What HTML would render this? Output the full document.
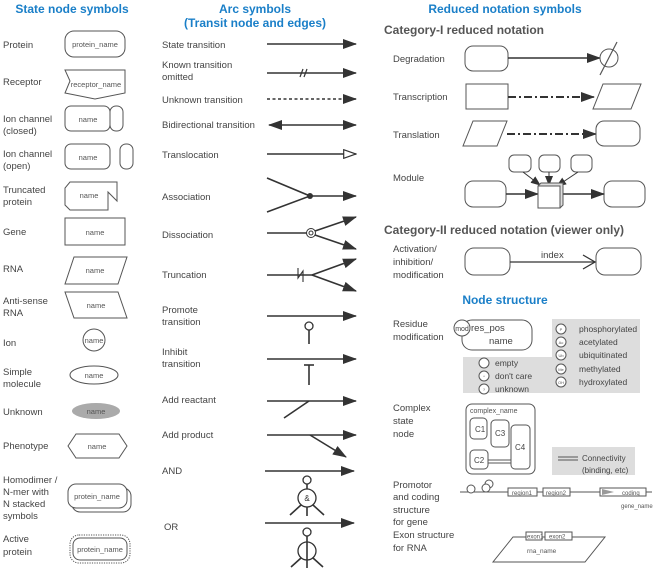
<!DOCTYPE html>
<html><head><meta charset="utf-8"><style>
html,body{margin:0;padding:0;background:#fff}
svg{display:block}
text{font-family:"Liberation Sans",sans-serif}
.l{font-size:9.5px;fill:#444}
.h{font-size:12px;font-weight:bold;fill:#1a7fc8}
.g{font-size:12px;font-weight:bold;fill:#555}
.n{font-size:7.5px;fill:#555}
.s{fill:#fff;stroke:#555;stroke-width:1}
.a{stroke:#333;stroke-width:1.6;fill:none}
</style></head><body>
<svg width="653" height="568" viewBox="0 0 653 568" xmlns="http://www.w3.org/2000/svg">
<defs>
<marker id="ab" viewBox="0 0 14 10" refX="13" refY="5" markerWidth="14" markerHeight="10" orient="auto-start-reverse" markerUnits="userSpaceOnUse"><path d="M0,0L14,5L0,10z" fill="#333"/></marker>
<marker id="ao" viewBox="0 0 14 10" refX="13" refY="5" markerWidth="14" markerHeight="10" orient="auto" markerUnits="userSpaceOnUse"><path d="M0.7,0.7L13,5L0.7,9.3z" fill="#fff" stroke="#333" stroke-width="1.2"/></marker>
<marker id="as" viewBox="0 0 10 8" refX="9" refY="4" markerWidth="10" markerHeight="8" orient="auto" markerUnits="userSpaceOnUse"><path d="M0,0L10,4L0,8z" fill="#333"/></marker>
</defs>

<text x="72" y="13" class="h" text-anchor="middle">State node symbols</text>
<text x="255" y="13" class="h" text-anchor="middle">Arc symbols</text>
<text x="255" y="27" class="h" text-anchor="middle">(Transit node and edges)</text>
<text x="505" y="13" class="h" text-anchor="middle">Reduced notation symbols</text>

<g class="l">
<text x="3" y="48">Protein</text>
<text x="3" y="85">Receptor</text>
<text x="3" y="122">Ion channel</text><text x="3" y="134">(closed)</text>
<text x="3" y="157">Ion channel</text><text x="3" y="169">(open)</text>
<text x="3" y="193">Truncated</text><text x="3" y="205">protein</text>
<text x="3" y="235">Gene</text>
<text x="3" y="272">RNA</text>
<text x="3" y="304">Anti-sense</text><text x="3" y="316">RNA</text>
<text x="3" y="346">Ion</text>
<text x="3" y="375">Simple</text><text x="3" y="387">molecule</text>
<text x="3" y="415">Unknown</text>
<text x="3" y="449">Phenotype</text>
<text x="3" y="483">Homodimer /</text><text x="3" y="495">N-mer with</text><text x="3" y="507">N stacked</text><text x="3" y="519">symbols</text>
<text x="3" y="542">Active</text><text x="3" y="555">protein</text>
</g>
<rect x="65" y="31" width="60" height="26" rx="9" class="s"/>
<text x="95" y="47" class="n" text-anchor="middle">protein_name</text>
<path d="M65,70L125,70L125,93L95,99L65,93L70,81Z" class="s"/>
<text x="96" y="87" class="n" text-anchor="middle">receptor_name</text>
<rect x="65" y="106" width="45" height="25" rx="6" class="s"/>
<rect x="110" y="106" width="13" height="25" rx="6" class="s"/>
<text x="88" y="122" class="n" text-anchor="middle">name</text>
<rect x="65" y="144" width="45" height="25" rx="6" class="s"/>
<rect x="120" y="144" width="13" height="25" rx="6" class="s"/>
<text x="88" y="160" class="n" text-anchor="middle">name</text>
<path d="M70,182L117,182L117,201L108,192L108,210L70,210L65,205L65,188Z" class="s"/>
<text x="89" y="198" class="n" text-anchor="middle">name</text>
<rect x="65" y="218" width="60" height="27" class="s"/>
<text x="95" y="235" class="n" text-anchor="middle">name</text>
<path d="M74,257L127,257L118,284L65,284Z" class="s"/>
<text x="95" y="273" class="n" text-anchor="middle">name</text>
<path d="M65,292L118,292L127,318L74,318Z" class="s"/>
<text x="96" y="308" class="n" text-anchor="middle">name</text>
<circle cx="94" cy="340" r="11" class="s"/>
<text x="94" y="343" class="n" text-anchor="middle">name</text>
<ellipse cx="94" cy="375" rx="24" ry="9" class="s"/>
<text x="94" y="378" class="n" text-anchor="middle">name</text>
<ellipse cx="96" cy="411" rx="24" ry="8" fill="#aaa"/>
<text x="96" y="414" class="n" text-anchor="middle">name</text>
<path d="M76,434L119,434L127,446L119,458L76,458L68,446Z" class="s"/>
<text x="97" y="449" class="n" text-anchor="middle">name</text>
<rect x="72" y="488" width="59" height="24" rx="8" class="s"/>
<rect x="68" y="484" width="59" height="24" rx="8" class="s"/>
<text x="97" y="499" class="n" text-anchor="middle">protein_name</text>
<rect x="70" y="535" width="60" height="28" rx="9" fill="#fff" stroke="#555" stroke-dasharray="1.2,1.2"/>
<rect x="73" y="538" width="54" height="22" rx="7" class="s"/>
<text x="100" y="552" class="n" text-anchor="middle">protein_name</text>

<g class="l">
<text x="162" y="48">State transition</text>
<text x="162" y="68">Known transition</text><text x="162" y="80">omitted</text>
<text x="162" y="103">Unknown transition</text>
<text x="162" y="128">Bidirectional transition</text>
<text x="162" y="158">Translocation</text>
<text x="162" y="200">Association</text>
<text x="162" y="238">Dissociation</text>
<text x="162" y="278">Truncation</text>
<text x="162" y="313">Promote</text><text x="162" y="325">transition</text>
<text x="162" y="355">Inhibit</text><text x="162" y="367">transition</text>
<text x="162" y="403">Add reactant</text>
<text x="162" y="438">Add product</text>
<text x="162" y="474">AND</text>
<text x="164" y="530">OR</text>
</g>
<line x1="267" y1="44" x2="356" y2="44" class="a" marker-end="url(#ab)"/>
<line x1="267" y1="73" x2="356" y2="73" class="a" marker-end="url(#ab)"/>
<line x1="300" y1="77" x2="303" y2="69" stroke="#333" stroke-width="1.2"/><line x1="304" y1="77" x2="307" y2="69" stroke="#333" stroke-width="1.2"/>
<line x1="267" y1="99" x2="343" y2="99" stroke="#333" stroke-width="1.6" stroke-dasharray="3,2.5"/>
<line x1="343" y1="99" x2="356" y2="99" class="a" marker-end="url(#ab)"/>
<line x1="269" y1="125" x2="356" y2="125" class="a" marker-start="url(#ab)" marker-end="url(#ab)"/>
<line x1="267" y1="154" x2="356" y2="154" class="a" marker-end="url(#ao)"/>
<path d="M267,178L310,196L267,212" class="a"/>
<circle cx="310" cy="196" r="3" fill="#333"/>
<line x1="310" y1="196" x2="356" y2="196" class="a" marker-end="url(#ab)"/>
<line x1="267" y1="233" x2="307" y2="233" class="a"/>
<circle cx="311" cy="233" r="4.5" fill="#fff" stroke="#333"/><circle cx="311" cy="233" r="2" fill="#fff" stroke="#333"/>
<line x1="315" y1="231" x2="356" y2="217" class="a" marker-end="url(#ab)"/>
<line x1="315" y1="235" x2="356" y2="249" class="a" marker-end="url(#ab)"/>
<line x1="267" y1="275" x2="312" y2="275" class="a"/>
<path d="M298,268L298,278L303,271L303,282" stroke="#333" fill="none" stroke-width="1.1"/>
<line x1="312" y1="275" x2="356" y2="259" class="a" marker-end="url(#ab)"/>
<line x1="312" y1="275" x2="356" y2="291" class="a" marker-end="url(#ab)"/>
<line x1="267" y1="316" x2="356" y2="316" class="a" marker-end="url(#ab)"/>
<circle cx="309" cy="326" r="4" fill="#fff" stroke="#333" stroke-width="1.3"/>
<line x1="309" y1="330" x2="309" y2="344" class="a"/>
<line x1="267" y1="359" x2="356" y2="359" class="a" marker-end="url(#ab)"/>
<line x1="309" y1="365" x2="309" y2="385" class="a"/><line x1="304" y1="365" x2="314" y2="365" class="a"/>
<line x1="267" y1="401" x2="356" y2="401" class="a" marker-end="url(#ab)"/>
<line x1="309" y1="401" x2="284" y2="418" class="a"/>
<line x1="267" y1="435" x2="356" y2="435" class="a" marker-end="url(#ab)"/>
<line x1="310" y1="435" x2="346" y2="457" class="a" marker-end="url(#ab)"/>
<line x1="265" y1="471" x2="354" y2="471" class="a" marker-end="url(#ab)"/>
<circle cx="307" cy="480" r="4" fill="#fff" stroke="#333" stroke-width="1.3"/>
<line x1="307" y1="484" x2="307" y2="489" class="a"/>
<circle cx="307" cy="498" r="9" fill="#fff" stroke="#333" stroke-width="1.3"/>
<text x="307" y="501" font-size="8" text-anchor="middle" fill="#333">&amp;</text>
<path d="M301,505L290,515M307,507L307,516M313,505L324,515" class="a" stroke-width="1.3"/>
<line x1="265" y1="523" x2="354" y2="523" class="a" marker-end="url(#ab)"/>
<circle cx="307" cy="532" r="4" fill="#fff" stroke="#333" stroke-width="1.3"/>
<line x1="307" y1="536" x2="307" y2="542" class="a"/>
<circle cx="307" cy="551" r="9" fill="#fff" stroke="#333" stroke-width="1.3"/>
<line x1="307" y1="542" x2="307" y2="568" class="a" stroke-width="1.3"/>
<path d="M301,558L291,567M313,558L323,567" class="a" stroke-width="1.3"/>

<text x="384" y="34" class="g">Category-I reduced notation</text>
<g class="l">
<text x="393" y="62">Degradation</text>
<text x="393" y="100">Transcription</text>
<text x="393" y="138">Translation</text>
<text x="393" y="181">Module</text>
<text x="393" y="252">Activation/</text><text x="393" y="265">inhibition/</text><text x="393" y="278">modification</text>
</g>
<rect x="465" y="46" width="43" height="25" rx="8" class="s"/>
<line x1="508" y1="58" x2="600" y2="58" class="a" marker-end="url(#ab)"/>
<circle cx="609" cy="58" r="9" class="s" stroke-width="1.2"/>
<line x1="600" y1="75" x2="617" y2="42" stroke="#555" stroke-width="1.2"/>
<rect x="466" y="84" width="42" height="25" class="s"/>
<line x1="508" y1="97" x2="588" y2="97" stroke="#333" stroke-width="2" stroke-dasharray="8,3,2,3"/>
<line x1="585" y1="97" x2="594" y2="97" class="a" marker-end="url(#ab)"/>
<path d="M603,84L641,84L631,109L593,109Z" class="s"/>
<path d="M473,121L507,121L497,146L463,146Z" class="s"/>
<line x1="507" y1="134" x2="588" y2="134" stroke="#333" stroke-width="2" stroke-dasharray="8,3,2,3"/>
<line x1="585" y1="134" x2="596" y2="134" class="a" marker-end="url(#ab)"/>
<rect x="596" y="121" width="44" height="25" rx="8" class="s"/>
<rect x="509" y="155" width="22" height="17" rx="5" class="s"/>
<rect x="539" y="155" width="21" height="17" rx="5" class="s"/>
<rect x="571" y="155" width="21" height="17" rx="5" class="s"/>
<line x1="523" y1="172" x2="540" y2="185" stroke="#333" stroke-width="1" marker-end="url(#as)"/>
<line x1="549" y1="172" x2="549" y2="185" stroke="#333" stroke-width="1" marker-end="url(#as)"/>
<line x1="578" y1="172" x2="557" y2="186" stroke="#333" stroke-width="1" marker-end="url(#as)"/>
<rect x="465" y="181" width="41" height="26" rx="8" class="s"/>
<rect x="604" y="181" width="41" height="26" rx="8" class="s"/>
<line x1="506" y1="194" x2="538" y2="194" class="a" marker-end="url(#ab)"/>
<line x1="561" y1="194" x2="604" y2="194" class="a" marker-end="url(#ab)"/>
<path d="M538,186L541,183L563,183L563,205L560,208L538,208Z" fill="#ddd" stroke="#555"/>
<rect x="538" y="186" width="22" height="22" class="s"/>
<text x="384" y="234" class="g">Category-II reduced notation (viewer only)</text>
<rect x="465" y="248" width="45" height="27" rx="9" class="s"/>
<rect x="596" y="248" width="45" height="27" rx="9" class="s"/>
<line x1="510" y1="262" x2="595" y2="262" stroke="#333" stroke-width="1.3"/>
<path d="M583,255L595,262L583,269" stroke="#333" stroke-width="1.3" fill="none"/>
<text x="541" y="258" class="l" font-size="9">index</text>

<text x="505" y="304" class="h" text-anchor="middle">Node structure</text>
<g class="l">
<text x="393" y="327">Residue</text><text x="393" y="340">modification</text>
<text x="393" y="411">Complex</text><text x="393" y="424">state</text><text x="393" y="437">node</text>
<text x="393" y="488">Promotor</text><text x="393" y="500">and coding</text><text x="393" y="513">structure</text><text x="393" y="525">for gene</text>
<text x="393" y="538">Exon structure</text><text x="393" y="551">for RNA</text>
</g>
<path d="M552,319L640,319L640,393L463,393L463,357L552,357Z" fill="#ddd"/>
<rect x="462" y="320" width="70" height="30" rx="10" class="s"/>
<circle cx="462" cy="328" r="8" class="s"/>
<text x="462" y="331" font-size="7" fill="#444" text-anchor="middle">mod</text>
<text x="471" y="331" class="l" font-size="8.5">res_pos</text>
<text x="489" y="344" class="l" font-size="8.5">name</text>
<g font-size="8.5" fill="#444">
<circle cx="561" cy="329" r="5" class="s"/><text x="579" y="332">phosphorylated</text>
<circle cx="561" cy="342" r="5" class="s"/><text x="579" y="345">acetylated</text>
<circle cx="561" cy="355" r="5" class="s"/><text x="579" y="358">ubiquitinated</text>
<circle cx="561" cy="369" r="5" class="s"/><text x="579" y="372">methylated</text>
<circle cx="561" cy="382" r="5" class="s"/><text x="579" y="385">hydroxylated</text>
<circle cx="484" cy="363" r="5" class="s"/><text x="495" y="366">empty</text>
<circle cx="484" cy="376" r="5" class="s"/><text x="495" y="379">don't care</text>
<circle cx="484" cy="389" r="5" class="s"/><text x="495" y="392">unknown</text>
</g>
<g font-size="4" fill="#555" text-anchor="middle">
<text x="561" y="331">P</text><text x="561" y="344">Ac</text><text x="561" y="357">Ub</text><text x="561" y="371">Me</text><text x="561" y="384">OH</text><text x="484" y="378">*</text><text x="484" y="391">?</text>
</g>
<rect x="466" y="404" width="69" height="70" rx="6" class="s"/>
<text x="470" y="413" font-size="7" fill="#555">complex_name</text>
<rect x="470" y="418" width="17" height="21" rx="4" class="s"/><text x="475" y="432" font-size="8" fill="#444">C1</text>
<line x1="487" y1="460" x2="511" y2="460" stroke="#555"/><line x1="487" y1="463" x2="511" y2="463" stroke="#555"/>
<rect x="491" y="420" width="18" height="27" rx="4" class="s"/><text x="495" y="436" font-size="8" fill="#444">C3</text>
<rect x="470" y="450" width="18" height="19" rx="4" class="s"/><text x="474" y="463" font-size="8" fill="#444">C2</text>
<rect x="511" y="425" width="19" height="44" rx="4" class="s"/><text x="515" y="450" font-size="8" fill="#444">C4</text>
<rect x="552" y="447" width="83" height="28" fill="#ddd"/>
<line x1="558" y1="457" x2="578" y2="457" stroke="#555"/><line x1="558" y1="460" x2="578" y2="460" stroke="#555"/>
<text x="582" y="461" font-size="8" fill="#444">Connectivity</text>
<text x="582" y="473" font-size="8" fill="#444">(binding, etc)</text>
<line x1="460" y1="492" x2="652" y2="492" stroke="#555"/>
<circle cx="471" cy="489" r="4" class="s"/>
<circle cx="489" cy="484" r="4" class="s"/><circle cx="486" cy="488" r="4" class="s"/>
<rect x="508" y="488" width="29" height="8" class="s"/><text x="512" y="495" font-size="6" fill="#555">region1</text>
<rect x="543" y="488" width="27" height="8" class="s"/><text x="546" y="495" font-size="6" fill="#555">region2</text>
<rect x="600" y="488" width="46" height="8" class="s"/>
<path d="M602,489L614,492L602,495Z" fill="#999"/>
<text x="622" y="495" font-size="6" fill="#555">coding</text>
<text x="621" y="508" font-size="6" fill="#555">gene_name</text>
<path d="M513,537L605,537L585,562L493,562Z" class="s"/>
<rect x="526" y="532" width="16" height="8" class="s"/><text x="527" y="538.5" font-size="6" fill="#555">exon1</text>
<rect x="545" y="532" width="27" height="8" class="s"/><text x="549" y="538.5" font-size="6" fill="#555">exon2</text>
<text x="527" y="553" font-size="6.5" fill="#555">rna_name</text>
</svg>
</body></html>
